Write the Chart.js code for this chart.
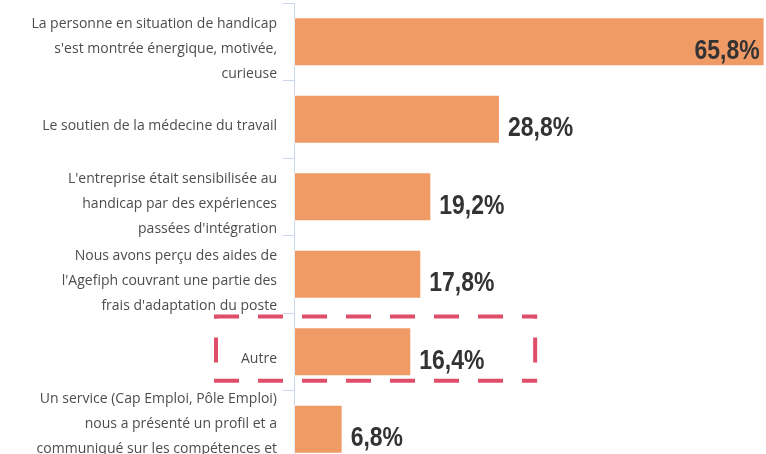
<!DOCTYPE html>
<html>
<head>
<meta charset="utf-8">
<script src="https://cdn.jsdelivr.net/npm/chart.js@4.4.1/dist/chart.umd.min.js"></script>
<style>
  html, body { margin: 0; padding: 0; background: #ffffff; overflow: hidden; }
  #wrap { width: 766px; height: 468px; }
</style>
</head>
<body>
<div id="wrap"><canvas id="c" width="766" height="468"></canvas></div>
<script>
// ---- Data ----
const categories = [
  ["La personne en situation de handicap", "s'est montrée énergique, motivée,", "curieuse"],
  "Le soutien de la médecine du travail",
  ["L'entreprise était sensibilisée au", "handicap par des expériences", "passées d'intégration"],
  ["Nous avons perçu des aides de", "l'Agefiph couvrant une partie des", "frais d'adaptation du poste"],
  "Autre",
  ["Un service (Cap Emploi, Pôle Emploi)", "nous a présenté un profil et a", "communiqué sur les compétences et", "les atouts de la personne"]
];
const percentages = [65.8, 28.8, 19.2, 17.8, 16.4, 6.8];
const highlightedIndex = 4;   // "Autre"
const highlightEndValue = 34; // right edge of the dashed box, in x-axis units

// ---- Plugins ----
const valueLabels = {
  id: 'valueLabels',
  afterDatasetsDraw(chart) {
    const ctx = chart.ctx;
    const area = chart.chartArea;
    const meta = chart.getDatasetMeta(0);
    const squeeze = 0.82;
    ctx.save();
    ctx.font = 'bold 28px "Liberation Sans", Arial, sans-serif';
    ctx.fillStyle = '#333333';
    ctx.textBaseline = 'alphabetic';
    meta.data.forEach((bar, i) => {
      const txt = percentages[i].toFixed(1).replace('.', ',') + '%';
      const w = ctx.measureText(txt).width * squeeze;
      const y = bar.y + 17;
      let x0;
      if (bar.x + 8 + w > area.right) {
        x0 = bar.x - 5 - w;
      } else {
        x0 = bar.x + 8;
      }
      ctx.save();
      ctx.translate(x0, y);
      ctx.scale(squeeze, 1);
      ctx.textAlign = 'left';
      ctx.fillText(txt, 0, 0);
      ctx.restore();
    });
    ctx.restore();
  }
};

const highlightBox = {
  id: 'highlightBox',
  afterDraw(chart) {
    const ctx = chart.ctx;
    const ys = chart.scales.y;
    const xs = chart.scales.x;
    const catH = (ys.bottom - ys.top) / categories.length;
    const cy = ys.getPixelForValue(highlightedIndex);
    const top = cy - catH * 0.455;
    const bottom = cy + catH * 0.375;
    const left = ys.right - 80;
    const right = xs.getPixelForValue(highlightEndValue);
    ctx.save();
    ctx.strokeStyle = '#e04d68';
    ctx.lineWidth = 4;
    ctx.setLineDash([25, 19]);
    ctx.lineDashOffset = 0;
    ctx.beginPath();
    ctx.moveTo(left, top); ctx.lineTo(right, top);
    ctx.moveTo(left, bottom); ctx.lineTo(right, bottom);
    ctx.stroke();
    ctx.lineDashOffset = 23;
    ctx.beginPath();
    ctx.moveTo(left + 2, top); ctx.lineTo(left + 2, bottom);
    ctx.moveTo(right - 2, top); ctx.lineTo(right - 2, bottom);
    ctx.stroke();
    ctx.restore();
  }
};

new Chart(document.getElementById('c'), {
  type: 'bar',
  data: {
    labels: categories,
    datasets: [{
      data: percentages,
      backgroundColor: '#f09a66',
      borderColor: 'rgba(255,255,255,0.55)',
      borderWidth: 1,
      borderSkipped: false,
      barPercentage: 0.63,
      categoryPercentage: 1.0
    }]
  },
  options: {
    indexAxis: 'y',
    responsive: false,
    animation: false,
    devicePixelRatio: 1,
    layout: { padding: { top: 3, right: 0, bottom: 0, left: 0 } },
    plugins: {
      legend: { display: false },
      tooltip: { enabled: false },
      title: { display: false }
    },
    scales: {
      x: {
        display: false,
        min: 0,
        max: 66
      },
      y: {
        afterFit(scale) {
          scale.width = 294;
          scale.paddingTop = 0;
          scale.paddingBottom = 0;
        },
        border: { display: true, color: '#ccd6eb', width: 1 },
        grid: {
          offset: true,
          drawOnChartArea: false,
          drawTicks: true,
          tickLength: 11,
          color: '#ccd6eb'
        },
        ticks: {
          padding: 6,
          labelOffset: 7,
          color: '#4d4d4d',
          font: { family: '"Open Sans", sans-serif', size: 14, lineHeight: 1.78 },
          autoSkip: false
        }
      }
    }
  },
  plugins: [valueLabels, highlightBox]
});
</script>
</body>
</html>
